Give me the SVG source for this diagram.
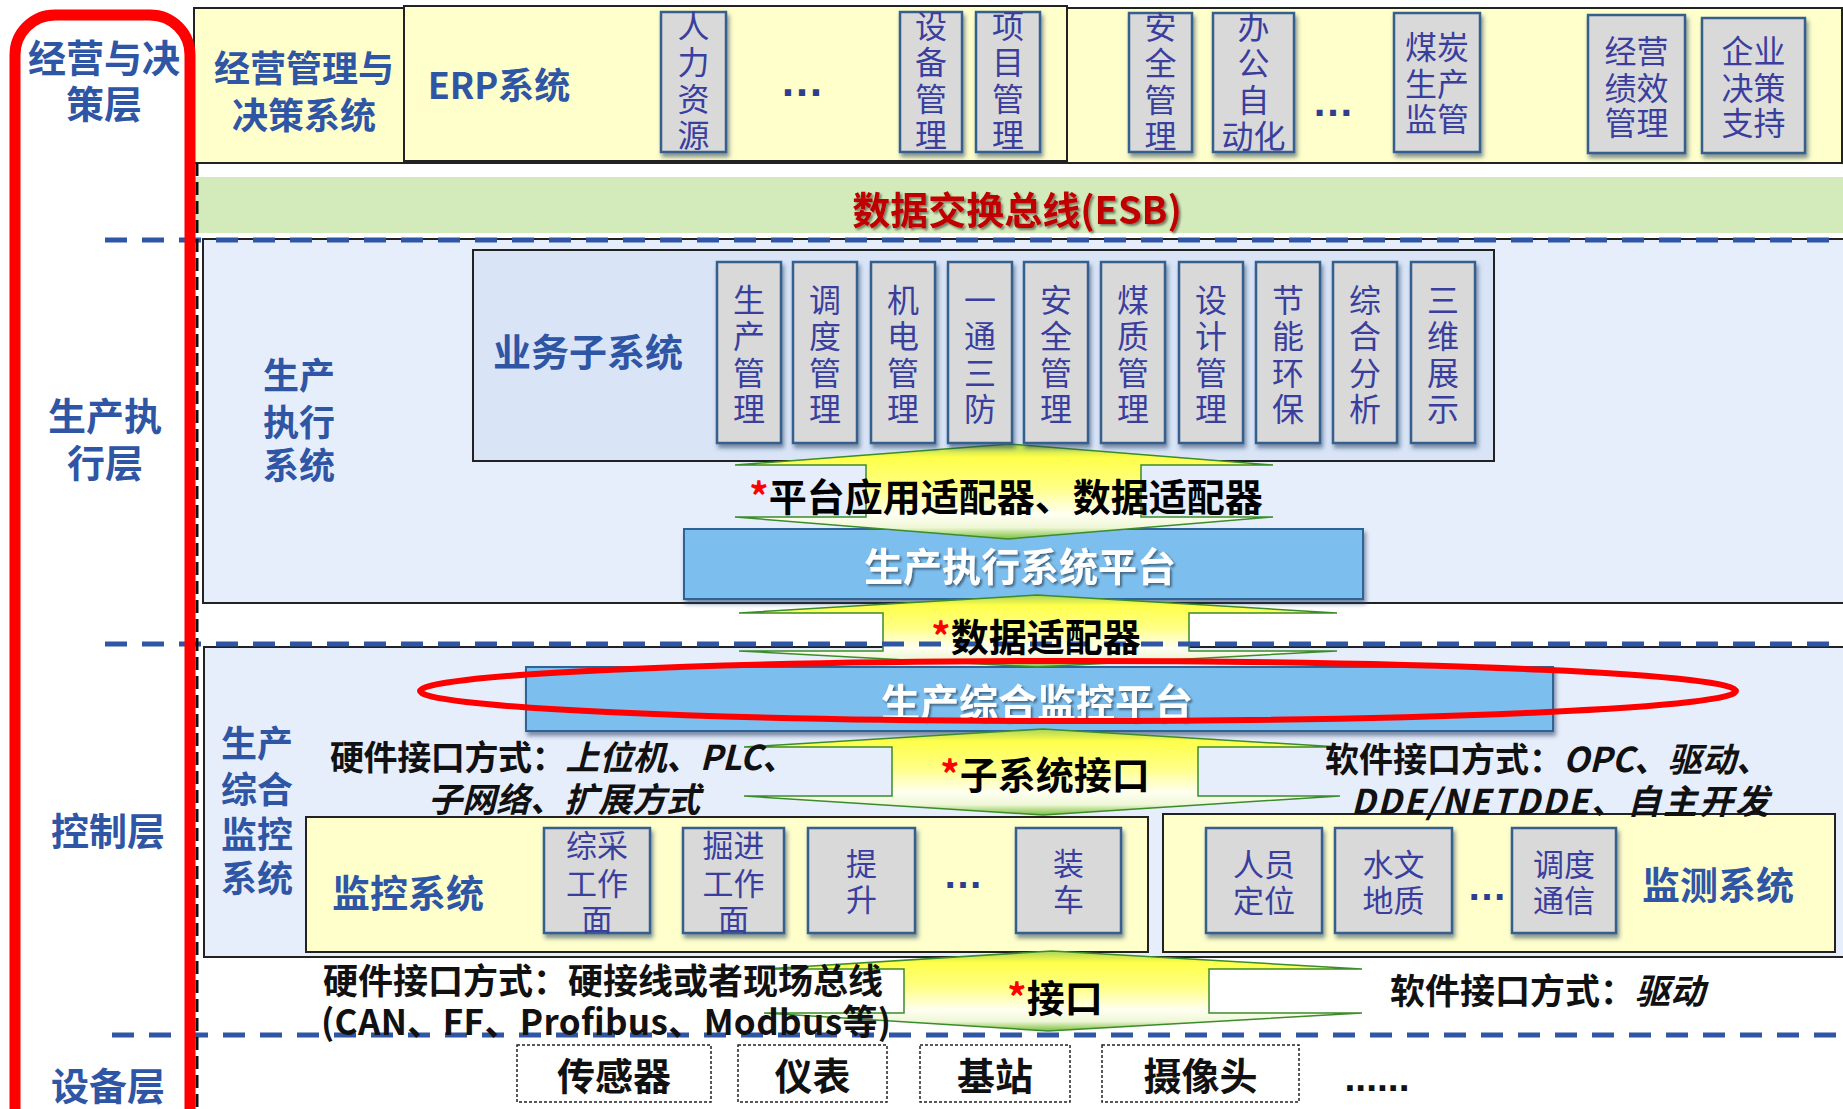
<svg xmlns="http://www.w3.org/2000/svg" width="1843" height="1109" viewBox="0 0 1843 1109">
<defs>
  <linearGradient id="arrowGrad" x1="0" y1="0" x2="0" y2="1">
    <stop offset="0" stop-color="#A9D35A"/>
    <stop offset="0.14" stop-color="#FFFF4A"/>
    <stop offset="0.45" stop-color="#FFFF85"/>
    <stop offset="0.74" stop-color="#FFFFF2"/>
    <stop offset="0.88" stop-color="#EEF7D6"/>
    <stop offset="1" stop-color="#7CBF3E"/>
  </linearGradient>
  <filter id="boxShadow" x="-20%" y="-10%" width="140%" height="130%">
    <feDropShadow dx="2" dy="4" stdDeviation="2" flood-color="#1F3A5F" flood-opacity="0.55"/>
  </filter>
  <filter id="txtShadow" x="-10%" y="-20%" width="120%" height="150%">
    <feDropShadow dx="2" dy="2" stdDeviation="1.2" flood-color="#000000" flood-opacity="0.45"/>
  </filter>
</defs>
<style>
  text { font-family: "Noto Sans CJK SC", "Noto Sans", sans-serif; dominant-baseline: central; }
  .layer { fill: #2F55A5; font-weight: 700; font-size: 38px; text-anchor: middle; }
  .blue36 { fill: #2F55A5; font-weight: 700; font-size: 36px; text-anchor: middle; }
  .gbox { fill: #D9D9D9; stroke: #355E8C; stroke-width: 2.5; filter: url(#boxShadow); }
  .gtxt { fill: #3A3F9E; font-size: 32px; text-anchor: middle; }
  .gtxt2 { fill: #3A3F9E; font-size: 31px; text-anchor: middle; }
  .vt { fill: #3A3F9E; font-size: 32px; writing-mode: vertical-rl; text-anchor: start; letter-spacing: 4.3px; }
  .vt2 { fill: #3A3F9E; font-size: 31px; writing-mode: vertical-rl; text-anchor: start; letter-spacing: 5px; }
  .ybox { fill: #FFFFCC; stroke: #222222; stroke-width: 2; }
  .lbox { fill: #E7EEFB; stroke: #222222; stroke-width: 2; }
  .bar { fill: #7BBEEE; stroke: #2E6496; stroke-width: 2; filter: url(#boxShadow); }
  .bartxt { fill: #FFFFFF; font-weight: 700; font-size: 39px; text-anchor: middle; filter: url(#txtShadow); }
  .arrow { fill: url(#arrowGrad); stroke: #3B8C2A; stroke-width: 1.5; }
  .atxt { fill: #000000; font-weight: 700; font-size: 38px; text-anchor: middle; }
  .star { fill: #FF0000; }
  .ann { fill: #111111; font-weight: 700; font-size: 34px; }
  .ann35 { fill: #111111; font-weight: 700; font-size: 35px; }
  .it { font-style: italic; }
  .sep { stroke: #2F55A5; stroke-width: 5; stroke-dasharray: 22 15; fill: none; }
  .dev { fill: #FFFFFF; stroke: #222222; stroke-width: 1.5; stroke-dasharray: 3 2; }
  .devtxt { fill: #111111; font-weight: 700; font-size: 38px; text-anchor: middle; }
  .dots { font-family: "Liberation Sans", Arial, sans-serif; font-weight: 700; dominant-baseline: auto; text-anchor: middle; }
</style>

<rect x="0" y="0" width="1843" height="1109" fill="#FFFFFF"/>

<!-- Decision layer -->
<g id="decision-layer">
  <rect class="ybox" x="194" y="8" width="1648" height="155"/>
  <text class="blue36"><tspan x="304" y="66">经营管理与</tspan><tspan x="304" y="113">决策系统</tspan></text>
</g>
<g id="erp">
  <rect class="ybox" x="404" y="6" width="663" height="155"/>
  <text class="blue36" x="499" y="83">ERP系统</text>
</g>
<g id="top-modules">
  <g id="hr"><rect class="gbox" x="661" y="12" width="65" height="140"/>
    <text class="vt" x="693.5" y="10" letter-spacing="4">人力资源</text></g>
  <text class="dots" x="802" y="96" font-size="44" fill="#2E3E8E">…</text>
  <g id="equip"><rect class="gbox" x="900" y="12" width="62" height="140"/>
    <text class="vt" x="931" y="10" letter-spacing="4">设备管理</text></g>
  <g id="project"><rect class="gbox" x="976" y="12" width="64" height="140"/>
    <text class="vt" x="1008" y="10" letter-spacing="4">项目管理</text></g>
  <g id="safety-top"><rect class="gbox" x="1129" y="13" width="63" height="139"/>
    <text class="vt" x="1160.5" y="11" letter-spacing="4">安全管理</text></g>
  <g id="office"><rect class="gbox" x="1213" y="13" width="81" height="139"/>
    <text class="vt" x="1253.5" y="11" letter-spacing="3.5">办公自</text>
    <text class="gtxt" x="1253.5" y="134">动化</text></g>
  <text class="dots" x="1333" y="116" font-size="42" fill="#2E3E8E">…</text>
  <g id="coal-supervision"><rect class="gbox" x="1394" y="13" width="86" height="139"/>
    <text class="gtxt"><tspan x="1437" y="45">煤炭</tspan><tspan x="1437" y="82">生产</tspan><tspan x="1437" y="117">监管</tspan></text></g>
  <g id="performance"><rect class="gbox" x="1588" y="15" width="97" height="138"/>
    <text class="gtxt"><tspan x="1636.5" y="49">经营</tspan><tspan x="1636.5" y="86">绩效</tspan><tspan x="1636.5" y="121">管理</tspan></text></g>
  <g id="decision-support"><rect class="gbox" x="1702" y="18" width="103" height="135"/>
    <text class="gtxt"><tspan x="1753.5" y="49">企业</tspan><tspan x="1753.5" y="86">决策</tspan><tspan x="1753.5" y="121">支持</tspan></text></g>
</g>

<!-- ESB -->
<g id="esb">
  <rect x="194" y="177" width="1649" height="56" fill="#D3EABB"/>
  <text x="1017" y="207" fill="#C00000" font-weight="700" font-size="38" text-anchor="middle" filter="url(#txtShadow)">数据交换总线(ESB)</text>
</g>

<!-- Production execution layer -->
<g id="mes">
  <rect class="lbox" x="203" y="239" width="1645" height="364"/>
  <text class="blue36"><tspan x="299" y="373">生产</tspan><tspan x="299" y="420">执行</tspan><tspan x="299" y="463">系统</tspan></text>
</g>
<g id="business-subsystems">
  <rect x="473" y="250" width="1021" height="211" fill="#D9E5F7" stroke="#222222" stroke-width="2"/>
  <text class="layer" x="588" y="349">业务子系统</text>
</g>
<g id="mes-platform">
  <rect class="bar" x="684" y="529" width="679" height="70"/>
  <text class="bartxt" x="1020" y="564">生产执行系统平台</text>
</g>

<!-- Control layer boxes -->
<g id="control">
  <rect class="lbox" x="204" y="647" width="1645" height="310"/>
  <text class="blue36"><tspan x="257" y="741">生产</tspan><tspan x="257" y="787">综合</tspan><tspan x="257" y="832">监控</tspan><tspan x="257" y="876">系统</tspan></text>
</g>
<g id="monitor-platform">
  <rect class="bar" x="526" y="667" width="1027" height="64"/>
  <text class="bartxt" x="1037" y="700">生产综合监控平台</text>
</g>
<g id="monitoring-control">
  <rect class="ybox" x="306" y="817" width="842" height="135"/>
  <text class="layer" x="408" y="890">监控系统</text>
</g>
<g id="monitoring-detect">
  <rect class="ybox" x="1163" y="814" width="672" height="138"/>
  <text class="layer" x="1718" y="882">监测系统</text>
</g>

<!-- Connectors: double arrows -->
<g id="connectors">
  <polygon class="arrow" points="1010,444 1273,465 1141,465 1141,517 1273,517 1008,539 735,517 866,517 866,465 735,465"/>
  <polygon class="arrow" points="1037,595 1337,613 1189,613 1189,651 1337,651 1037,667 739,651 883,651 883,613 739,613"/>
  <polygon class="arrow" points="1043,729 1340,747 1198,747 1198,796 1340,796 1043,815 744,796 892,796 892,747 744,747"/>
  <polygon class="arrow" points="1052,951 1362,969 1209,969 1209,1013 1362,1013 1048,1031 764,1013 904,1013 904,969 764,969"/>
</g>

<!-- Business subsystem modules -->
<g id="biz-modules">
  <g id="m1"><rect class="gbox" x="717" y="262" width="64" height="181"/><text class="vt" x="749" y="284">生产管理</text></g>
  <g id="m2"><rect class="gbox" x="793" y="262" width="64" height="181"/><text class="vt" x="825" y="284">调度管理</text></g>
  <g id="m3"><rect class="gbox" x="871" y="262" width="64" height="181"/><text class="vt" x="903" y="284">机电管理</text></g>
  <g id="m4"><rect class="gbox" x="948" y="262" width="64" height="181"/><text class="vt" x="980" y="284">一通三防</text></g>
  <g id="m5"><rect class="gbox" x="1024" y="262" width="64" height="181"/><text class="vt" x="1056" y="284">安全管理</text></g>
  <g id="m6"><rect class="gbox" x="1101" y="262" width="64" height="181"/><text class="vt" x="1133" y="284">煤质管理</text></g>
  <g id="m7"><rect class="gbox" x="1179" y="262" width="64" height="181"/><text class="vt" x="1211" y="284">设计管理</text></g>
  <g id="m8"><rect class="gbox" x="1256" y="262" width="64" height="181"/><text class="vt" x="1288" y="284">节能环保</text></g>
  <g id="m9"><rect class="gbox" x="1333" y="262" width="64" height="181"/><text class="vt" x="1365" y="284">综合分析</text></g>
  <g id="m10"><rect class="gbox" x="1411" y="262" width="64" height="181"/><text class="vt" x="1443" y="284">三维展示</text></g>
</g>

<!-- Control layer modules -->
<g id="ctrl-modules">
  <g id="c1"><rect class="gbox" x="544" y="828" width="106" height="105"/>
    <text class="gtxt2"><tspan x="597" y="843">综采</tspan><tspan x="597" y="881">工作</tspan><tspan x="597" y="917">面</tspan></text></g>
  <g id="c2"><rect class="gbox" x="683" y="828" width="101" height="105"/>
    <text class="gtxt2"><tspan x="733.5" y="843">掘进</tspan><tspan x="733.5" y="881">工作</tspan><tspan x="733.5" y="917">面</tspan></text></g>
  <g id="c3"><rect class="gbox" x="808" y="828" width="107" height="105"/>
    <text class="vt2" x="861.5" y="848">提升</text></g>
  <text class="dots" x="963" y="888" font-size="40" fill="#2E3E8E">…</text>
  <g id="c4"><rect class="gbox" x="1016" y="828" width="105" height="105"/>
    <text class="vt2" x="1068.5" y="848">装车</text></g>
  <g id="d1"><rect class="gbox" x="1206" y="828" width="116" height="105"/>
    <text class="gtxt2"><tspan x="1264" y="862">人员</tspan><tspan x="1264" y="898">定位</tspan></text></g>
  <g id="d2"><rect class="gbox" x="1335" y="828" width="117" height="105"/>
    <text class="gtxt2"><tspan x="1393.5" y="862">水文</tspan><tspan x="1393.5" y="898">地质</tspan></text></g>
  <text class="dots" x="1487" y="900" font-size="40" fill="#2E3E8E">…</text>
  <g id="d3"><rect class="gbox" x="1512" y="828" width="104" height="105"/>
    <text class="gtxt2"><tspan x="1564" y="862">调度</tspan><tspan x="1564" y="898">通信</tspan></text></g>
</g>

<!-- Layer separators -->
<line class="sep" x1="105" y1="240" x2="1843" y2="240"/>
<line class="sep" x1="105" y1="644" x2="1843" y2="644"/>
<line class="sep" x1="112" y1="1035" x2="1843" y2="1035"/>
<line x1="197" y1="163" x2="197" y2="1109" stroke="#111111" stroke-width="3" stroke-dasharray="13 6"/>

<!-- Arrow labels -->
<text class="atxt" x="1006" y="494"><tspan class="star">*</tspan>平台应用适配器、数据适配器</text>
<text class="atxt" x="1036" y="634"><tspan class="star">*</tspan>数据适配器</text>
<text class="atxt" x="1045" y="772"><tspan class="star">*</tspan>子系统接口</text>
<text class="atxt" x="1055" y="995"><tspan class="star">*</tspan>接口</text>

<!-- Interface annotations -->
<text class="ann" x="330" y="755" textLength="466">硬件接口方式：<tspan class="it">上位机、PLC、</tspan></text>
<text class="ann it" x="428" y="797">子网络、扩展方式</text>
<text class="ann" x="1325" y="757" textLength="445">软件接口方式：<tspan class="it">OPC、驱动、</tspan></text>
<text class="ann it" x="1351" y="799" textLength="418">DDE/NETDDE、自主开发</text>
<text class="ann35" x="323" y="978">硬件接口方式：硬接线或者现场总线</text>
<text class="ann35" x="321" y="1019" textLength="570">(CAN、FF、Profibus、Modbus等)</text>
<text class="ann35" x="1390" y="988">软件接口方式：<tspan class="it">驱动</tspan></text>

<!-- Device layer -->
<g id="devices">
  <g id="sensor"><rect class="dev" x="517" y="1045" width="194" height="57"/><text class="devtxt" x="614" y="1073">传感器</text></g>
  <g id="meter"><rect class="dev" x="738" y="1045" width="149" height="57"/><text class="devtxt" x="812.5" y="1073">仪表</text></g>
  <g id="station"><rect class="dev" x="920" y="1045" width="150" height="57"/><text class="devtxt" x="995" y="1073">基站</text></g>
  <g id="camera"><rect class="dev" x="1102" y="1045" width="197" height="57"/><text class="devtxt" x="1200.5" y="1073">摄像头</text></g>
  <text class="dots" x="1377" y="1091" font-size="39" fill="#111111">......</text>
</g>

<!-- Layer titles -->
<g id="layer-titles">
  <text class="layer"><tspan x="104" y="55">经营与决</tspan><tspan x="104" y="101">策层</tspan></text>
  <text class="layer"><tspan x="105" y="413">生产执</tspan><tspan x="105" y="460">行层</tspan></text>
  <text class="layer" x="108" y="828">控制层</text>
  <text class="layer" x="108" y="1083">设备层</text>
</g>

<!-- Highlights -->
<ellipse cx="1078" cy="691" rx="658" ry="30" fill="none" stroke="#FF0000" stroke-width="6"/>
<rect x="15" y="15" width="175" height="1150" rx="40" fill="none" stroke="#FF0000" stroke-width="11"/>
</svg>
